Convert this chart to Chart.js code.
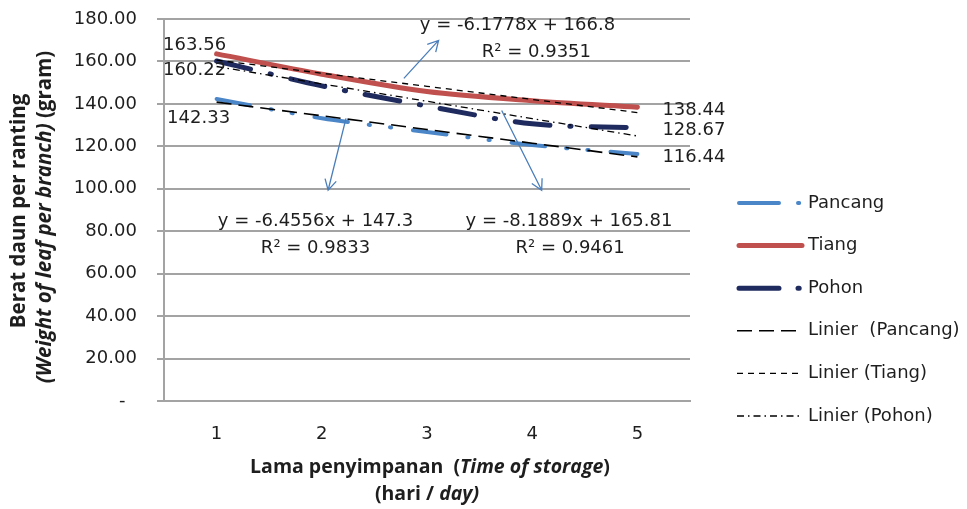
<!DOCTYPE html>
<html>
<head>
<meta charset="utf-8">
<script src="https://cdn.jsdelivr.net/npm/chart.js@4.4.0/dist/chart.umd.min.js"></script>
<style>
  html, body { margin: 0; padding: 0; background: #fff; }
  #wrap { width: 967px; height: 509px; }
</style>
</head>
<body>
<div id="wrap"><canvas id="chart"></canvas></div>
<script>
// data
const days = ['1', '2', '3', '4', '5'];
const pancang = [142.33, 133.2, 126.8, 120.6, 116.44];
const tiang = [163.56, 154.0, 145.8, 141.5, 138.44];
const pohon = [160.22, 148.5, 139.0, 130.6, 128.67];
// linear trend values as shown by the trendlines
const trendPancang = [140.84, 134.39, 127.93, 121.48, 115.02];
const trendTiang = [160.62, 154.44, 148.27, 142.09, 135.91];
const trendPohon = [157.62, 149.43, 141.24, 133.05, 124.87];
const seriesNames = ['Pancang', 'Tiang', 'Pohon', 'Linier  (Pancang)', 'Linier (Tiang)', 'Linier (Pohon)'];
const equations = ['y = -6.1778x + 166.8', 'R\u00B2 = 0.9351', 'y = -6.4556x + 147.3', 'R\u00B2 = 0.9833', 'y = -8.1889x + 165.81', 'R\u00B2 = 0.9461'];

const FONT = '"DejaVu Sans", sans-serif';
const TFONT = '"Open Sans", sans-serif';
const TEXT = '#1e1e1e';
const GRID = '#a3a3a3';

// where the equation boxes and arrows sit, in axis units (category index, grams)
const eqPlaces = [[2.86, 176.9], [3.04, 164.2], [0.94, 84.7], [0.94, 72], [3.35, 84.7], [3.36, 72]];
const arrows = [
  [[1.78, 152], [2.11, 169.9]],
  [[1.23, 133.2], [1.06, 99.3]],
  [[2.71, 136.9], [3.09, 99.3]]
];
// end-point value labels: dataset, point index, offset
const valueLabels = [
  [1, 0, -22, -9, 'center'], [2, 0, -22, 9.5, 'center'], [0, 0, -18, 19, 'center'],
  [1, 4, 25, 3, 'left'], [2, 4, 25, 2, 'left'], [0, 4, 25, 3, 'left']
];

function drawRuns(ctx, runs, cx, cy) {
  let total = 0;
  runs.forEach(r => { ctx.font = r[1]; total += ctx.measureText(r[0]).width; });
  let x = cx - total / 2;
  ctx.textAlign = 'left';
  ctx.textBaseline = 'middle';
  runs.forEach(r => {
    ctx.font = r[1];
    ctx.fillText(r[0], x, cy);
    x += ctx.measureText(r[0]).width;
  });
}

const overlay = {
  id: 'overlay',
  afterDraw(chart) {
    const {ctx, chartArea, scales: {x, y}} = chart;
    ctx.save();
    ctx.fillStyle = TEXT;

    // value labels at both ends
    ctx.font = '18px ' + FONT;
    ctx.textBaseline = 'middle';
    valueLabels.forEach(([ds, i, dx, dy, al]) => {
      const pt = chart.getDatasetMeta(ds).data[i];
      ctx.textAlign = al;
      ctx.fillText(chart.data.datasets[ds].data[i].toFixed(2), pt.x + dx, pt.y + dy);
    });

    // regression equations
    ctx.textAlign = 'center';
    equations.forEach((t, i) => {
      ctx.fillText(t, x.getPixelForValue(eqPlaces[i][0]), y.getPixelForValue(eqPlaces[i][1]));
    });

    // arrows
    ctx.strokeStyle = '#4a7ebb';
    ctx.lineWidth = 1.3;
    arrows.forEach(([a, b]) => {
      const x1 = x.getPixelForValue(a[0]), y1 = y.getPixelForValue(a[1]);
      const x2 = x.getPixelForValue(b[0]), y2 = y.getPixelForValue(b[1]);
      const ang = Math.atan2(y2 - y1, x2 - x1);
      ctx.beginPath();
      ctx.moveTo(x1, y1); ctx.lineTo(x2, y2);
      ctx.moveTo(x2 - 12 * Math.cos(ang - 0.5), y2 - 12 * Math.sin(ang - 0.5));
      ctx.lineTo(x2, y2);
      ctx.lineTo(x2 - 12 * Math.cos(ang + 0.5), y2 - 12 * Math.sin(ang + 0.5));
      ctx.stroke();
    });

    // axis titles
    const b = 'bold 20.5px ' + TFONT, bi = 'italic bold 20.5px ' + TFONT;
    ctx.save();
    ctx.translate(19, 211);
    ctx.rotate(-Math.PI / 2);
    drawRuns(ctx, [['Berat daun per ranting', b]], 0, 0);
    drawRuns(ctx, [['(Weight of leaf per branch)', bi], [' (gram)', b]], -6, 26);
    ctx.restore();
    const xb = 'bold 19.5px ' + TFONT, xbi = 'italic bold 19.5px ' + TFONT;
    const midX = (chartArea.left + chartArea.right) / 2;
    drawRuns(ctx, [['Lama penyimpanan  (', xb], ['Time of storage', xbi], [')', xb]], midX + 3, chartArea.bottom + 66);
    drawRuns(ctx, [['(hari / ', xb], ['day)', xbi]], midX, chartArea.bottom + 93);

    // legend
    const lx = chartArea.right + 47;
    const ly = chartArea.top + 184;
    chart.data.datasets.forEach((d, i) => {
      const yy = ly + i * 42.6;
      ctx.save();
      ctx.strokeStyle = d.borderColor;
      ctx.lineWidth = d.borderWidth;
      ctx.lineCap = d.borderCapStyle || 'butt';
      ctx.setLineDash(d.legendDash || d.borderDash || []);
      ctx.beginPath();
      ctx.moveTo(lx + (d.legendInset || 0), yy);
      ctx.lineTo(lx + 65, yy);
      ctx.stroke();
      ctx.restore();
      ctx.font = '18px ' + FONT;
      ctx.textAlign = 'left';
      ctx.textBaseline = 'middle';
      ctx.fillText(seriesNames[i], lx + 71, yy);
    });
    ctx.restore();
  }
};

new Chart(document.getElementById('chart'), {
  type: 'line',
  data: {
    labels: days,
    datasets: [
      { label: seriesNames[0], data: pancang, borderColor: '#4a86c8', borderWidth: 4, tension: 0.3,
        borderCapStyle: 'round', borderDash: [34, 21, 1.2, 20, 1.2, 22], legendDash: [40, 19, 1.2, 100], legendInset: 2, order: 1 },
      { label: seriesNames[1], data: tiang, borderColor: '#c0504d', borderWidth: 5, tension: 0.3,
        borderCapStyle: 'round', legendInset: 2, order: 1 },
      { label: seriesNames[2], data: pohon, borderColor: '#1f2b5e', borderWidth: 5, tension: 0.3,
        borderCapStyle: 'round', borderDash: [35, 20, 1.2, 20], legendDash: [40, 19, 1.2, 100], legendInset: 2, order: 1 },
      { label: seriesNames[3], data: trendPancang, borderColor: '#000', borderWidth: 1.6, borderDash: [15, 7], order: 0 },
      { label: seriesNames[4], data: trendTiang, borderColor: '#000', borderWidth: 1.3, borderDash: [6, 5], order: 0 },
      { label: seriesNames[5], data: trendPohon, borderColor: '#000', borderWidth: 1.3, borderDash: [7, 4, 1.5, 4], order: 0 }
    ]
  },
  options: {
    responsive: true,
    maintainAspectRatio: false,
    devicePixelRatio: 1,
    animation: false,
    layout: { padding: { top: 19, right: 277, left: 0, bottom: 0 } },
    elements: { point: { radius: 0, hoverRadius: 0 } },
    plugins: { legend: { display: false }, tooltip: { enabled: false } },
    scales: {
      x: {
        offset: true,
        grid: { display: false },
        border: { display: true, color: GRID, width: 2 },
        ticks: { color: TEXT, font: { family: FONT, size: 18 }, padding: 15 },
        afterFit(s) { s.height = 108; }
      },
      y: {
        min: 0,
        max: 180,
        ticks: {
          stepSize: 20, color: TEXT, font: { family: FONT, size: 18 }, padding: 3,
          // trailing spaces push the right-aligned labels away from the axis
          callback: v => (v === 0 ? '-     ' : v.toFixed(2) + '   ')
        },
        grid: { color: GRID, lineWidth: 2, tickLength: 7 },
        border: { color: GRID, width: 2 },
        afterFit(s) { s.width = 164; }
      }
    }
  },
  plugins: [overlay]
});
</script>
</body>
</html>
